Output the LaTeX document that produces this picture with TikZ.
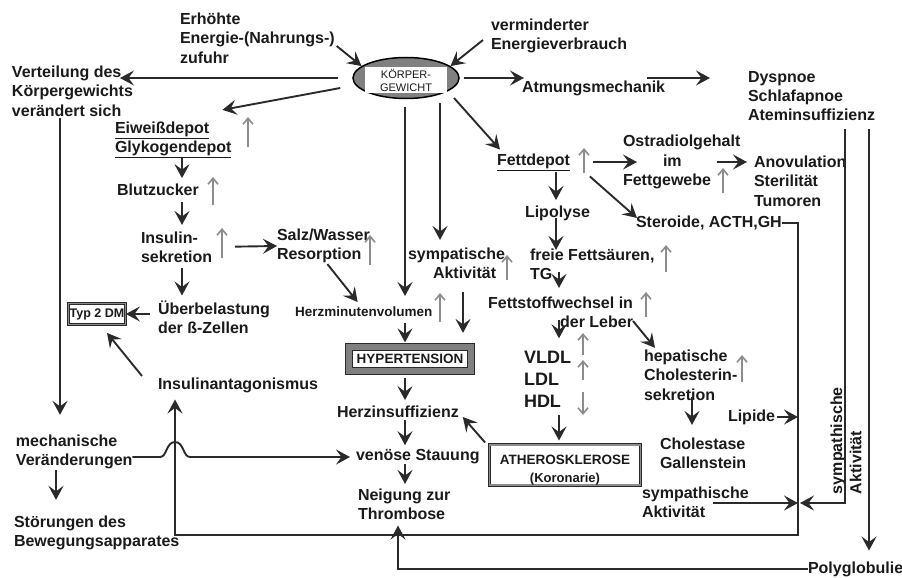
\documentclass[tikz,border=0pt]{standalone}
\usepackage{fontspec}
\setmainfont{Liberation Sans}
\usetikzlibrary{shapes.geometric, arrows.meta, calc}

\definecolor{ink}{HTML}{1A1A1A}
\definecolor{wire}{HTML}{2A2A2A}
\definecolor{hint}{HTML}{8C8C8C}
\definecolor{shade}{HTML}{808080}

\begin{document}
\begin{tikzpicture}[x=1pt, y=-1pt,
  lbl/.style={font=\bfseries\fontsize{16}{19.3}\selectfont, text=ink,
              inner sep=0pt, outer sep=0pt, align=left, anchor=west},
  sml/.style={lbl, font=\bfseries\fontsize{13.5}{16}\selectfont},
  arr/.style={draw=wire, line width=1.9pt,
              -{Stealth[length=14pt, width=15pt, inset=5.5pt]}},
  incr/.style={draw=hint, line width=1.6pt,
               -{Straight Barb[length=6pt, width=10pt]}},
  framebox/.style={rectangle, draw=wire, line width=0.8pt, fill=white,
                   inner sep=0pt, text=ink, align=center},
]
\useasboundingbox (0,0) rectangle (902,578);

% ---------- central weight node ----------
\node[ellipse, draw=black, line width=1.5pt, fill=shade, inner sep=0pt,
      minimum width=106pt, minimum height=41pt] (kg) at (406,78) {};
\node[rectangle, fill=white, inner sep=0pt, minimum width=82pt,
      minimum height=26pt, align=center, text=ink,
      font=\fontsize{11}{13}\selectfont] (kgtxt) at (406,80) {KÖRPER-\\GEWICHT};

% ---------- text nodes ----------
\node[lbl] (erh) at (180,38) {Erhöhte\\Energie-(Nahrungs-)\\zufuhr};
\node[lbl] (verm) at (491,36) {verminderter\\Energieverbrauch};
\node[lbl] (vert) at (12,91) {Verteilung des\\Körpergewichts\\verändert sich};
\node[lbl] (atm) at (522,88) {Atmungsmechanik};
\node[lbl] (dys) at (748,96) {Dyspnoe\\Schlafapnoe\\Ateminsuffizienz};

\node[lbl] (eiw) at (115,140) {\underline{Eiweißdepot}\\\underline{Glykogendepot}};
\node[lbl] (blut) at (117,190) {Blutzucker};
\node[lbl] (ins) at (141,247) {Insulin-\\sekretion};
\node[lbl] (salz) at (277,246) {Salz/Wasser\\Resorption};
\node[lbl] (ueb) at (158,317) {Überbelastung\\der ß-Zellen};
\node[framebox, double=hint, double distance=1.2pt, minimum width=57pt,
      minimum height=21pt, font=\bfseries\fontsize{12.5}{14}\selectfont] (typ) at (97,314) {Typ 2 DM};
\node[lbl] (iant) at (158,385) {Insulinantagonismus};
\node[lbl] (mech) at (16,452) {mechanische\\Veränderungen};
\node[lbl] (stoer) at (14,533) {Störungen des\\Bewegungsapparates};

\node[sml] (hzmv) at (295,312) {Herzminutenvolumen};
\node[lbl] (symp) at (408,263) {sympatische\\\hspace*{25pt}Aktivität};
\node[framebox, line width=1.2pt, double=shade, double distance=5.5pt,
      minimum width=122pt, minimum height=24pt,
      font=\bfseries\fontsize{13.5}{16}\selectfont] (hyp) at (410,359) {HYPERTENSION};
\node[lbl] (herzi) at (337,412) {Herzinsuffizienz};
\node[lbl] (ven) at (356,457) {venöse Stauung};
\node[lbl] (neig) at (358,504) {Neigung zur\\Thrombose};

\node[lbl] (fett) at (497,162) {\underline{Fettdepot}};
\node[lbl] (ostr) at (623,162) {Ostradiolgehalt\\\hspace*{40pt}im\\Fettgewebe};
\node[lbl] (anov) at (754,181) {Anovulation\\Sterilität\\Tumoren};
\node[lbl] (lipo) at (525,213) {Lipolyse};
\node[lbl] (ster) at (636,223) {Steroide, ACTH,GH};
\node[lbl] (ffs) at (530,264) {freie Fettsäuren,\\TG};
\node[lbl, anchor=east, align=right] (fsw) at (633,312) {Fettstoffwechsel in\\der Leber};
\node[lbl, font=\bfseries\fontsize{18}{22}\selectfont] (lip) at (524,379) {VLDL\\LDL\\HDL};
\node[lbl] (hep) at (644,375) {hepatische\\Cholesterin-\\sekretion};
\node[lbl] (chol) at (660,453) {Cholestase\\Gallenstein};
\node[framebox, double=hint, double distance=1.5pt, minimum width=151pt,
      minimum height=33pt, font=\bfseries\fontsize{13.5}{17.5}\selectfont] (ath) at (565,465)
      {\rule{0pt}{20pt}ATHEROSKLEROSE\\{\fontsize{13}{14}\selectfont(Koronarie)}};
\node[lbl] (lipide) at (728,417) {Lipide};
\node[lbl] (sym2) at (642,502) {sympathische\\Aktivität};
\node[lbl, rotate=90] (symv) at (846,494) {sympathische\\Aktivität};
\node[lbl] (poly) at (808,569) {Polyglobulie};

% ---------- column and row guides ----------
\coordinate (cL) at (60,0);
\coordinate (cM) at (56,0);
\coordinate (cB) at (182,0);
\coordinate (cI) at (175,0);
\coordinate (cT) at (398,0);
\coordinate (cK) at (405,0);
\coordinate (cS) at (440,0);
\coordinate (cS2) at (463,0);
\coordinate (cF) at (556,0);
\coordinate (cF2) at (559,0);
\coordinate (cH) at (692,0);
\coordinate (cR) at (798,0);
\coordinate (cV1) at (845,0);
\coordinate (cV2) at (869,0);
\coordinate (rowB) at (0,535);
\coordinate (hopc) at (cI |- ven.west);
\coordinate (s2) at ($(sym2.west)+(71,1)$);

% ---------- around the weight node ----------
\draw[arr] ($(erh.east)+(2,8)$) -- (kg.165);
\draw[arr] ($(verm.west)+(-8,4)$) -- (kg.15);
\draw[arr, shorten <=14pt] (kg.west) -- ($(vert.west)+(108,-13)$);
\draw[arr] ($(kg.west)+(-12,10)$) -- ($(eiw.north east)+(-9,-12)$);
\draw[arr, shorten <=4pt] (kg.east) -- ($(atm.west)+(2,-10)$);
\draw[arr] ($(atm.east)+(-18,-10)$) -- ($(dys.west)+(-38,-18)$);
\draw[arr] ($(kg.center)+(48,20)$) -- ($(fett.north west)+(3,-4)$);
\draw[arr, shorten <=8pt, shorten >=11pt] (kg.south -| cK) -- (hzmv.north -| cK);
\draw[arr, shorten <=4pt, shorten >=7.5pt] (kg.south -| cS) -- (symp.north -| cS);

% ---------- left column ----------
\draw[arr, shorten <=2pt, shorten >=20pt] (vert.south -| cL) -- (mech.north -| cL);
\draw[arr, shorten <=1pt, shorten >=16pt] (mech.south -| cM) -- (stoer.north -| cM);
\draw[arr, shorten >=6pt] (mech.east |- ven.west) -- ($(hopc)+(-15,0)$)
  .. controls ($(hopc)+(-8,0)$) and ($(hopc)+(-9,-15)$) .. ($(hopc)+(0,-15)$)
  .. controls ($(hopc)+(9,-15)$) and ($(hopc)+(8,0)$) .. ($(hopc)+(15,0)$)
  -- (ven.west);

% ---------- glucose chain ----------
\draw[arr, shorten >=6pt] (eiw.south -| cB) -- (blut.north -| cB);
\draw[arr, shorten <=6pt, shorten >=6.5pt] (blut.south -| cB) -- (ins.north -| cB);
\draw[arr, shorten <=5.5pt, shorten >=5pt] (ins.south -| cB) -- (ueb.north -| cB);
\draw[arr, shorten <=23pt] (ins.east) -- (salz.west);
\draw[arr] ($(salz.south)+(4,1)$) -- ($(hzmv.north)+(-6,-5)$);
\draw[arr, shorten <=2pt] ($(ueb.west)+(-6,-3)$) -- (typ.east);
\draw[arr] ($(iant.west)+(-16,-9)$) -- ($(typ.south)+(10,8)$);

% ---------- circulation chain ----------
\draw[arr, shorten <=6pt, shorten >=4pt] (hzmv.south -| cK) -- (hyp.north -| cK);
\draw[arr, shorten <=13.5pt, shorten >=13.5pt] (symp.south -| cS2) -- (hyp.north -| cS2);
\draw[arr, shorten <=6pt, shorten >=6pt] (hyp.south -| cK) -- (herzi.north -| cK);
\draw[arr, shorten <=2pt, shorten >=4.5pt] (herzi.south -| cK) -- (ven.north -| cK);
\draw[arr, shorten >=4.5pt] (ven.south -| cK) -- (neig.north -| cK);
\draw[arr] ($(ath.north west)+(-4,-2)$) -- ($(herzi.east)+(4,5)$);

% ---------- fat chain ----------
\draw[arr, shorten <=1.5pt, shorten >=5.5pt] (fett.south -| cF) -- (lipo.north -| cF);
\draw[arr, shorten <=-2.5pt, shorten >=-1.5pt] (lipo.south -| cF) -- (ffs.north -| cF);
\draw[arr, shorten <=-7.5pt, shorten >=8.5pt] (ffs.south -| cF2) -- (fsw.north -| cF2);
\draw[arr, shorten <=-7.5pt, shorten >=12.5pt] (fsw.south -| cF2) -- (lip.north -| cF2);
\draw[arr, shorten <=7.5pt, shorten >=4pt] (lip.south -| cF2) -- (ath.north -| cF2);
\draw[arr] ($(fsw.east)+(0,9)$) -- ($(hep.north west)+(11,-2)$);
\draw[arr, shorten <=-3pt, shorten >=12.5pt] (hep.south -| cH) -- (chol.north -| cH);
\draw[arr, shorten <=23pt] (fett.east) -- ($(ostr.west)+(14,0)$);
\draw[arr, shorten >=7pt] ($(ostr.west)+(94,0)$) -- (anov.west |- ostr.west);
\draw[arr] ($(fett.south east)+(20,6)$) -- ($(ster.west)+(1,-5)$);

% ---------- right-hand feedback lines ----------
\draw[arr, shorten >=7pt] (ster.east) -| (cR |- rowB) -| (cI |- iant.south);
\draw[arr, shorten <=2pt] (lipide.east) -- (lipide.east -| cR);
\draw[arr] (s2) -- (s2 -| cR);
\draw[arr, shorten <=8pt, shorten >=2pt] (dys.south -| cV1) |- (s2 -| cR);
\draw[arr, shorten <=8pt, shorten >=11pt] (dys.south -| cV2) -- (poly.north -| cV2);
\draw[arr, shorten >=6pt] (poly.west) -| (cT |- neig.south);

% ---------- grey "increase/decrease" marks ----------
\foreach \x/\a/\b in {248/147/117, 213/205/177, 222/258/228, 370/265/235,
                      440/322/293, 507/280/255, 584/173/148, 723/193/168,
                      666/272/245, 646/317/292, 583/355/333, 583/380/360,
                      583/392/415, 742/382/355}
  \draw[incr] (\x,\a) -- (\x,\b);

\end{tikzpicture}
\end{document}
